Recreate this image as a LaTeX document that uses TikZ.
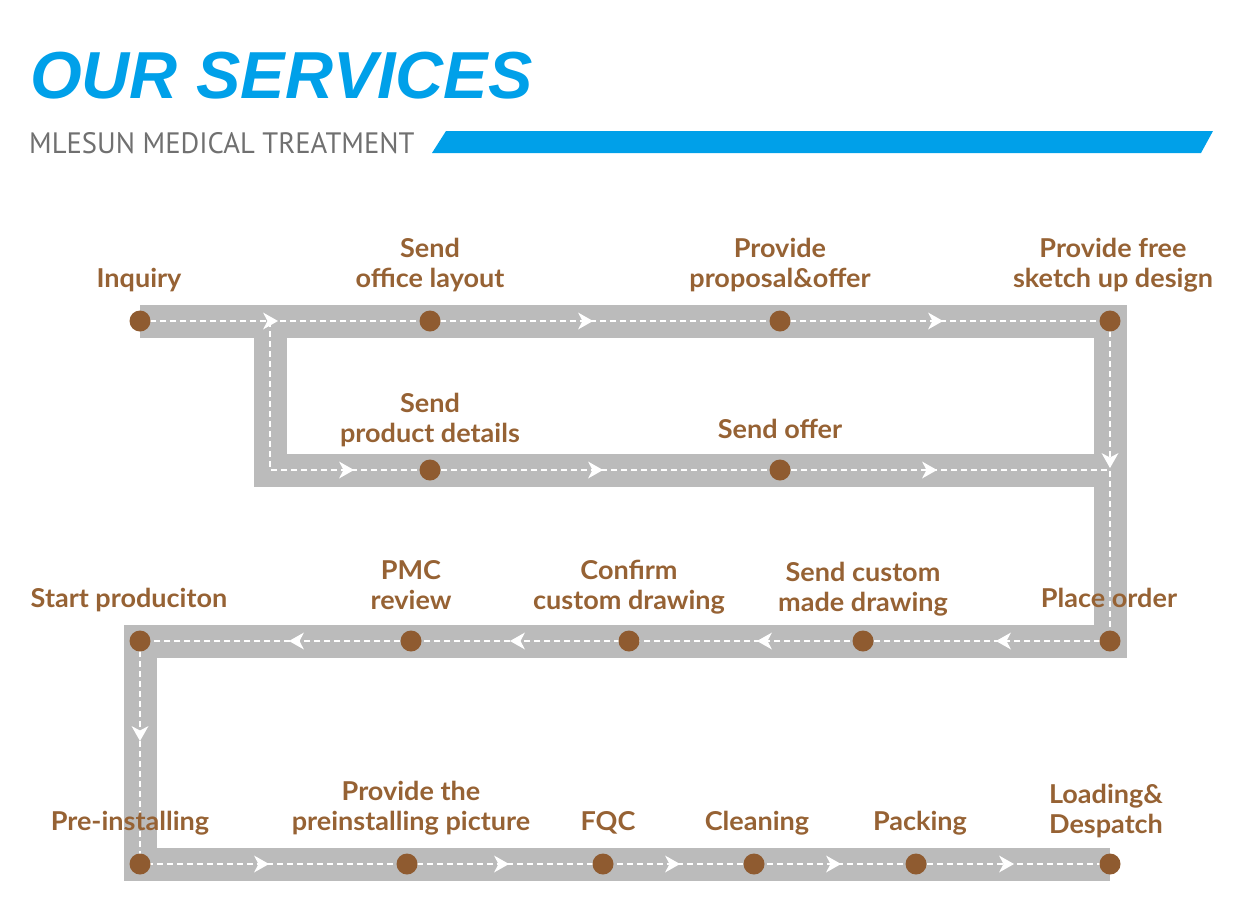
\documentclass[tikz,border=0pt]{standalone}
\usepackage{fontspec}
\setmainfont{Lato}
\newfontfamily\titlefont{Liberation Sans}
\newfontfamily\subfont{PT Sans}[FakeStretch=0.97]
\newfontfamily\labelfont{Lato}[UprightFont=* Bold, FakeStretch=1.04]
\definecolor{band}{RGB}{187,187,187}
\definecolor{dotbrown}{RGB}{143,91,48}
\definecolor{txtbrown}{RGB}{150,98,52}
\definecolor{skyblue}{RGB}{0,160,233}
\definecolor{subgray}{RGB}{112,112,112}
\tikzset{
  road/.style={draw=band, line width=33pt, line join=miter, line cap=butt},
  lane/.style={draw=white, line width=2.6pt, dash pattern=on 6pt off 4pt},
  stop/.style={circle, fill=dotbrown, minimum size=21pt, inner sep=0pt},
  lbl/.style={font=\labelfont\fontsize{26}{29.5}\selectfont, text=txtbrown, align=center, inner sep=0pt, anchor=base},
  tipR/.pic={\fill[white] (0,0) -- (-15,-8.5) -- (-10.5,0) -- (-15,8.5) -- cycle;},
  tipL/.pic={\fill[white] (0,0) -- (15,-8.5) -- (10.5,0) -- (15,8.5) -- cycle;},
  tipD/.pic={\fill[white] (0,0) -- (-8.5,-15) -- (0,-10.5) -- (8.5,-15) -- cycle;},
}
\begin{document}
\begin{tikzpicture}[x=1pt,y=-1pt]
\useasboundingbox (0,0) rectangle (1244,916);
% title
\node[anchor=base west, inner sep=0pt, font=\titlefont\bfseries\itshape\fontsize{66.5}{66}\selectfont, text=skyblue] (title) at (30,98) {OUR SERVICES};
\node[anchor=base west, inner sep=0pt, font=\subfont\fontsize{29.5}{30}\selectfont, text=subgray] (subtitle) at (29,153) {MLESUN MEDICAL TREATMENT};
\fill[skyblue] (432,153) -- (446,131) -- (1213,131) -- (1201,153) -- cycle;
% coordinates
\coordinate (A1) at (140,321);
\coordinate (A2) at (430,321);
\coordinate (A3) at (780,321);
\coordinate (A4) at (1110,321);
\coordinate (J1) at (270,321);
\coordinate (J2) at (270,470);
\coordinate (B1) at (430,470);
\coordinate (B2) at (780,470);
\coordinate (J3) at (1110,470);
\coordinate (C1) at (1110,641);
\coordinate (C2) at (863,641);
\coordinate (C3) at (629,641);
\coordinate (C4) at (411,641);
\coordinate (C5) at (140,641);
\coordinate (D1) at (140,864);
\coordinate (D2) at (407,864);
\coordinate (D3) at (603,864);
\coordinate (D4) at (754,864);
\coordinate (D5) at (916,864);
\coordinate (D6) at (1110,864);
% roads
\draw[road] (A1) -- (A4) -- (C1) -- (C5) -- (D1) -- (D6);
\draw[road] (J1) -- (J2) -- (J3);
% lanes
\draw[lane] (A1) -- (A4) -- (C1) -- (C5) -- (D1) -- (D6);
\draw[lane] (J1) -- (J2) -- (J3);
% arrow tips
\pic at (278,321) {tipR};
\pic at (593,321) {tipR};
\pic at (943,321) {tipR};
\pic at (354,470) {tipR};
\pic at (603,470) {tipR};
\pic at (937,470) {tipR};
\pic at (1110,468) {tipD};
\pic at (996,641) {tipL};
\pic at (757,641) {tipL};
\pic at (510,641) {tipL};
\pic at (289,641) {tipL};
\pic at (140,741) {tipD};
\pic at (269,864) {tipR};
\pic at (509,864) {tipR};
\pic at (680,864) {tipR};
\pic at (841,864) {tipR};
\pic at (1014,864) {tipR};
% stops
\foreach \p in {A1,A2,A3,A4,B1,B2,C1,C2,C3,C4,C5,D1,D2,D3,D4,D5,D6}
  \node[stop] (s\p) at (\p) {};
% labels
\node[lbl] (l1) at (139,287) {Inquiry};
\node[lbl] (l2) at (430,287) {Send\\office layout};
\node[lbl] (l3) at (780,287) {Provide\\proposal\&offer};
\node[lbl] (l4) at (1113,287) {Provide free\\sketch up design};
\node[lbl] (l5) at (430,442) {Send\\product details};
\node[lbl] (l6) at (780,438) {Send offer};
\node[lbl] (l7) at (129,607) {Start produciton};
\node[lbl] (l8) at (411,609) {PMC\\review};
\node[lbl] (l9) at (629,609) {Confirm\\custom drawing};
\node[lbl] (l10) at (863,611) {Send custom\\made drawing};
\node[lbl] (l11) at (1109,607) {Place order};
\node[lbl] (l12) at (130,830) {Pre-installing};
\node[lbl] (l13) at (411,830) {Provide the\\preinstalling picture};
\node[lbl] (l14) at (608,830) {FQC};
\node[lbl] (l15) at (757,830) {Cleaning};
\node[lbl] (l16) at (920,830) {Packing};
\node[lbl] (l17) at (1106,833) {Loading\&\\Despatch};
\end{tikzpicture}
\end{document}
